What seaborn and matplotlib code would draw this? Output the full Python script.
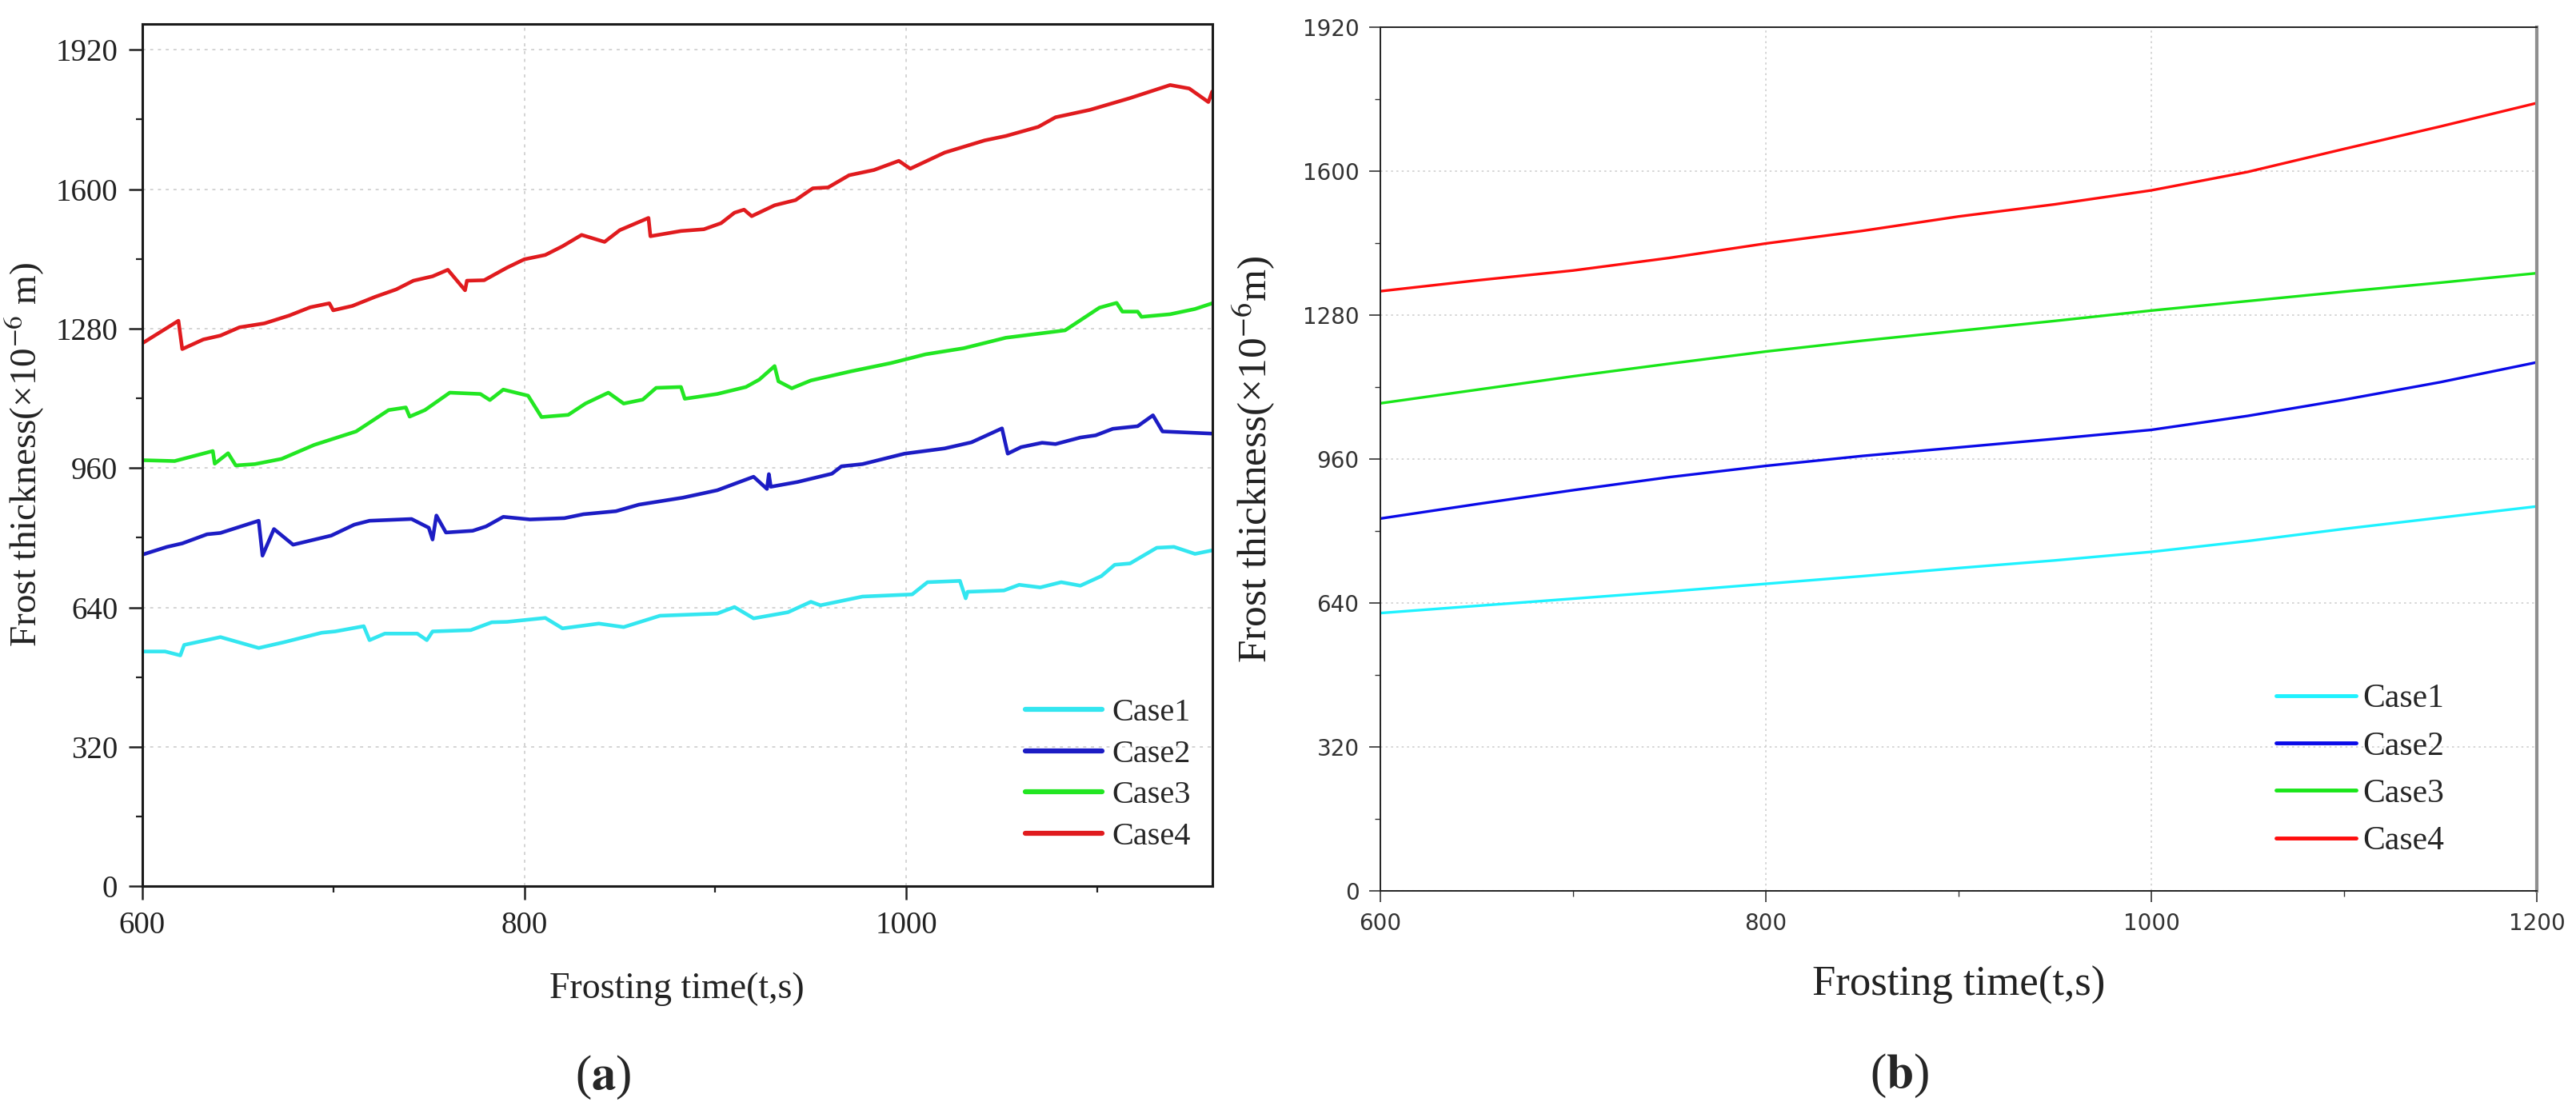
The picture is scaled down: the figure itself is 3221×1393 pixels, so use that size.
import numpy as np
import pandas as pd
import matplotlib
matplotlib.use("Agg")
import matplotlib.pyplot as plt
from matplotlib.ticker import MultipleLocator
import seaborn as sns

OUT_PATH = "out.png"
CASES = ["Case1", "Case2", "Case3", "Case4"]

# ---- panel (a): measured frost thickness (noisy) ----
a_case1_t = [600, 612, 620, 622, 641, 661, 674, 694, 701, 716, 719, 727, 744, 749, 752, 772,
             783, 791, 811, 820, 839, 852, 871, 901, 910, 920, 938, 950, 955, 977, 1003, 1011,
             1028, 1031, 1032, 1051, 1059, 1070, 1081, 1091, 1102, 1109, 1117, 1131, 1140, 1151, 1160]
a_case1_y = [539, 539, 530, 554, 572, 547, 560, 582, 585, 597, 565, 580, 580, 565, 585, 588,
             606, 607, 616, 592, 603, 595, 621, 626, 641, 615, 629, 653, 645, 665, 670, 698,
             701, 661, 676, 679, 692, 686, 698, 690, 712, 738, 741, 777, 779, 763, 771]

a_case2_t = [600, 613, 621, 634, 641, 661, 663, 669, 679, 699, 711, 719, 741, 750, 752, 754,
             759, 773, 780, 789, 803, 821, 831, 848, 860, 883, 901, 920, 927, 928, 929, 943,
             961, 966, 977, 999, 1020, 1034, 1050, 1053, 1060, 1071, 1078, 1091, 1099, 1108,
             1121, 1129, 1134, 1160]
a_case2_y = [761, 779, 787, 808, 811, 839, 759, 820, 784, 805, 830, 839, 843, 823, 796, 851,
             812, 816, 826, 848, 842, 845, 854, 861, 876, 892, 909, 940, 912, 946, 917, 928,
             947, 964, 969, 993, 1005, 1019, 1051, 993, 1008, 1018, 1015, 1030, 1035, 1050,
             1056, 1081, 1044, 1039]

a_case3_t = [600, 617, 637, 638, 645, 649, 659, 673, 690, 712, 729, 738, 740, 748, 761, 777,
             782, 789, 802, 809, 823, 832, 844, 852, 862, 869, 882, 884, 901, 916, 923, 931,
             933, 940, 950, 971, 992, 1010, 1030, 1052, 1083, 1101, 1110, 1113, 1121, 1123,
             1138, 1151, 1160]
a_case3_y = [978, 976, 999, 970, 994, 966, 969, 981, 1013, 1044, 1093, 1099, 1078, 1093, 1133, 1130,
             1116, 1140, 1126, 1077, 1082, 1108, 1133, 1108, 1117, 1144, 1146, 1119, 1130, 1146, 1163, 1194,
             1159, 1143, 1161, 1182, 1201, 1221, 1235, 1259, 1276, 1328, 1339, 1319, 1319, 1307,
             1313, 1325, 1338]

a_case4_t = [600, 619, 621, 632, 641, 651, 664, 677, 688, 698, 700, 710, 722, 733, 742, 752,
             760, 769, 770, 779, 791, 800, 811, 820, 830, 842, 850, 865, 866, 882, 894, 903,
             910, 915, 919, 931, 942, 951, 959, 970, 983, 996, 1002, 1020, 1041, 1052, 1069,
             1078, 1096, 1117, 1138, 1148, 1158, 1160]
a_case4_y = [1246, 1298, 1233, 1255, 1264, 1283, 1292, 1310, 1329, 1338, 1322, 1332, 1353, 1370, 1390, 1400,
             1415, 1368, 1390, 1391, 1420, 1439, 1449, 1469, 1495, 1479, 1506, 1534, 1492, 1504, 1508, 1522,
             1546, 1553, 1538, 1563, 1575, 1602, 1604, 1632, 1644, 1665, 1647, 1684, 1712, 1722, 1743,
             1765, 1782, 1809, 1839, 1831, 1800, 1824]

# ---- panel (b): simulated frost thickness (smooth) ----
b_time = [600, 650, 700, 750, 800, 850, 900, 950, 1000, 1050, 1100, 1150, 1200]
b_case1 = [618, 634, 650, 666, 683, 700, 718, 735, 754, 778, 805, 830, 855]
b_case2 = [828, 860, 891, 920, 945, 967, 986, 1005, 1025, 1056, 1092, 1131, 1175]
b_case3 = [1084, 1114, 1144, 1172, 1199, 1223, 1245, 1267, 1290, 1311, 1332, 1352, 1373]
b_case4 = [1333, 1357, 1379, 1407, 1439, 1467, 1499, 1526, 1557, 1598, 1649, 1699, 1751]

a_colors = {"Case1": "#33E6F0", "Case2": "#1C1CC4", "Case3": "#22E622", "Case4": "#E01B1E"}
b_colors = {"Case1": "#1EF2FF", "Case2": "#0A0AE8", "Case3": "#19E619", "Case4": "#FF0D0D"}


def long_form(pairs):
    frames = []
    for name, (t, y) in zip(CASES, pairs):
        frames.append(pd.DataFrame({"time": t, "thickness": y, "case": name}))
    return pd.concat(frames, ignore_index=True)


def main():
    sns.set_theme(style="ticks")
    plt.rcParams["font.family"] = ["Liberation Serif", "DejaVu Sans"]
    plt.rcParams["mathtext.fontset"] = "stix"

    df_a = long_form([(a_case1_t, a_case1_y), (a_case2_t, a_case2_y),
                      (a_case3_t, a_case3_y), (a_case4_t, a_case4_y)])
    df_b = long_form([(b_time, b_case1), (b_time, b_case2),
                      (b_time, b_case3), (b_time, b_case4)])

    fig = plt.figure(figsize=(32.21, 13.93), dpi=100)
    ax_a = fig.add_axes([0.05517, 0.20438, 0.41540, 0.77444])
    ax_b = fig.add_axes([0.53586, 0.19993, 0.44893, 0.77588])

    # ---------- (a) ----------
    sns.lineplot(data=df_a, x="time", y="thickness", hue="case", palette=a_colors,
                 estimator=None, sort=False, linewidth=3.3, ax=ax_a)
    ax_a.set_xlim(600, 1160)
    ax_a.set_ylim(0, 1980)
    ax_a.xaxis.set_major_locator(MultipleLocator(200))
    ax_a.xaxis.set_minor_locator(MultipleLocator(100))
    ax_a.yaxis.set_major_locator(MultipleLocator(320))
    ax_a.yaxis.set_minor_locator(MultipleLocator(160))
    ax_a.grid(True, which="major", color="#d4d4d4", linestyle=(0, (2, 3)), linewidth=1.4)
    ax_a.tick_params(which="major", direction="out", length=12, width=1.8,
                     labelsize=28, pad=10, colors="#222222")
    ax_a.tick_params(which="minor", direction="out", length=6, width=1.6, colors="#222222")
    for s in ax_a.spines.values():
        s.set_color("#1a1a1a")
        s.set_linewidth(2.2)
    ax_a.set_xlabel("Frosting time(t,s)", fontsize=33, color="#222222")
    ax_a.set_ylabel(r"Frost thickness(×10$^{-6}$ m)", fontsize=34, color="#222222")
    ax_a.xaxis.set_label_coords(0.5, -0.099)
    ax_a.yaxis.set_label_coords(-0.0895, 0.5)
    sns.move_legend(ax_a, "lower right", bbox_to_anchor=(0.98, 0.04), frameon=False,
                    title=None, fontsize=29, handlelength=2.4, handletextpad=0.3,
                    labelspacing=0.36, borderpad=0, borderaxespad=0)
    for h in ax_a.get_legend().legend_handles:
        h.set_linewidth(4.5)

    # ---------- (b) ----------
    sns.lineplot(data=df_b, x="time", y="thickness", hue="case", palette=b_colors,
                 estimator=None, sort=False, linewidth=2.4, ax=ax_b)
    ax_b.set_xlim(600, 1200)
    ax_b.set_ylim(0, 1920)
    ax_b.xaxis.set_major_locator(MultipleLocator(200))
    ax_b.xaxis.set_minor_locator(MultipleLocator(100))
    ax_b.yaxis.set_major_locator(MultipleLocator(320))
    ax_b.yaxis.set_minor_locator(MultipleLocator(160))
    ax_b.grid(True, which="major", color="#cfcfcf", linestyle=(0, (1.5, 2.5)), linewidth=1.2)
    ax_b.tick_params(which="major", direction="out", length=10, width=1.2,
                     labelsize=20, pad=9, colors="#333333", labelfontfamily="DejaVu Sans")
    ax_b.tick_params(which="minor", direction="out", length=5, width=1.0, colors="#333333")
    for name, s in ax_b.spines.items():
        s.set_color("#222222")
        s.set_linewidth(1.4)
    ax_b.spines["right"].set_color("#8f8f8f")
    ax_b.spines["right"].set_linewidth(3)
    ax_b.set_xlabel("Frosting time(t,s)", fontsize=38, color="#222222")
    ax_b.set_ylabel(r"Frost thickness(×10$^{-6}$m)", fontsize=37, color="#222222")
    ax_b.xaxis.set_label_coords(0.5, -0.086)
    ax_b.yaxis.set_label_coords(-0.089, 0.5)
    sns.move_legend(ax_b, "lower right", bbox_to_anchor=(0.92, 0.04), frameon=False,
                    title=None, fontsize=30, handlelength=2.4, handletextpad=0.2,
                    labelspacing=0.5, borderpad=0, borderaxespad=0)
    for h in ax_b.get_legend().legend_handles:
        h.set_linewidth(3.5)

    fig.text(0.2341, 0.033, r"($\mathbf{a}$)", fontsize=44, ha="center", va="center")
    fig.text(0.7373, 0.034, r"($\mathbf{b}$)", fontsize=44, ha="center", va="center")

    fig.savefig(OUT_PATH, dpi=100, facecolor="white")
    plt.close(fig)


if __name__ == "__main__":
    main()
